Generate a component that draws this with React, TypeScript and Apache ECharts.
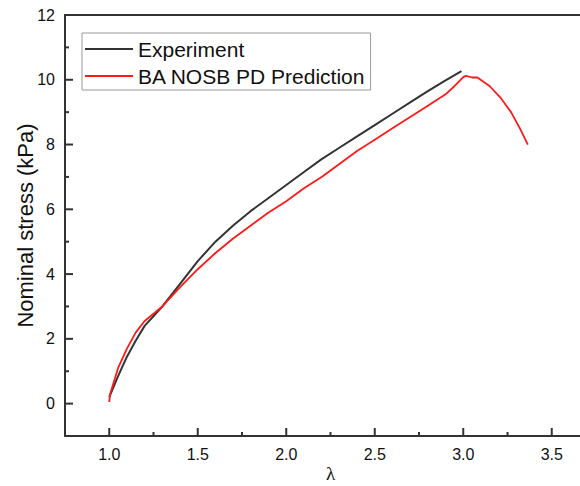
import React, { useEffect, useRef } from "react";
import * as echarts from "echarts";

const expLambda = [1.0, 1.05, 1.1, 1.15, 1.2, 1.3, 1.4, 1.5, 1.6, 1.7, 1.8, 1.9, 2.0, 2.1, 2.2, 2.3, 2.4, 2.5, 2.6, 2.7, 2.8, 2.9, 2.99];
const expStress = [0.2, 0.85, 1.45, 1.95, 2.4, 3.0, 3.7, 4.4, 5.0, 5.5, 5.95, 6.35, 6.75, 7.15, 7.55, 7.9, 8.25, 8.6, 8.95, 9.3, 9.65, 9.98, 10.27];

const predLambda = [1.0, 1.005, 1.05, 1.1, 1.15, 1.2, 1.3, 1.4, 1.5, 1.6, 1.7, 1.8, 1.9, 2.0, 2.1, 2.2, 2.3, 2.4, 2.5, 2.6, 2.7, 2.8, 2.9, 2.95, 3.0, 3.015, 3.05, 3.08, 3.15, 3.21, 3.27, 3.32, 3.365];
const predStress = [0.05, 0.3, 1.1, 1.7, 2.2, 2.55, 3.0, 3.6, 4.15, 4.65, 5.1, 5.5, 5.9, 6.25, 6.65, 7.0, 7.4, 7.8, 8.15, 8.5, 8.85, 9.2, 9.55, 9.8, 10.08, 10.12, 10.07, 10.07, 9.8, 9.45, 9.0, 8.5, 8.0];

const xMajorTicks = [1.0, 1.5, 2.0, 2.5, 3.0, 3.5];
const xMinorTicks = [1.25, 1.75, 2.25, 2.75, 3.25];
const yMajorTicks = [0, 2, 4, 6, 8, 10, 12];
const yMinorTicks = [1, 3, 5, 7, 9, 11];

const X_MIN = 0.75;
const X_MAX = 3.75;
const Y_MIN = -1;
const Y_MAX = 12;

const seriesNames = ["Experiment", "BA NOSB PD Prediction"];

const AXIS_COLOR = "#333333";
const SANS = "'Liberation Sans', Arial, sans-serif";
const MAJOR_LEN = 8;
const MINOR_LEN = 4;

export default function App() {
  const ref = useRef<HTMLDivElement>(null);

  useEffect(() => {
    if (!ref.current) return;
    const chart = echarts.init(ref.current, undefined, { renderer: "svg" });
    const expData = expLambda.map((x, i) => [x, expStress[i]]);
    const predData = predLambda.map((x, i) => [x, predStress[i]]);

    const tickSeries = (data: number[][], size: number[], offset: number[], name: string) => ({
      name,
      type: "scatter",
      xAxisIndex: 0,
      yAxisIndex: 0,
      data,
      symbol: "rect",
      symbolSize: size,
      symbolOffset: offset,
      clip: false,
      silent: true,
      z: 10,
      itemStyle: { color: AXIS_COLOR, opacity: 1 },
      emphasis: { disabled: true },
    });

    chart.setOption({
      animation: false,
      backgroundColor: "#ffffff",
      grid: {
        left: 65,
        top: 15,
        right: 24,
        bottom: 50,
        outerBoundsMode: "none",
        containLabel: false,
      },
      legend: {
        show: true,
        data: seriesNames.map((n) => ({ name: n, icon: "rect" })),
        orient: "vertical",
        left: 82,
        top: 33,
        padding: [5, 5, 3, 3],
        itemGap: 5,
        itemWidth: 48,
        itemHeight: 2,
        borderColor: "#999999",
        borderWidth: 1,
        textStyle: { fontFamily: SANS, fontSize: 21, color: "#111111", lineHeight: 22 },
      },
      xAxis: [
        {
          type: "value",
          min: X_MIN,
          max: X_MAX,
          position: "bottom",
          splitLine: { show: false },
          name: "λ",
          nameLocation: "middle",
          nameGap: 28,
          nameMoveOverlap: false,
          nameTextStyle: { fontFamily: "'Liberation Serif', 'Times New Roman', serif", fontSize: 19, color: "#111111" },
          axisLine: { show: true, onZero: false, lineStyle: { color: AXIS_COLOR, width: 2 } },
          axisTick: { show: false },
          axisLabel: {
            show: true,
            customValues: xMajorTicks,
            margin: 10,
            fontFamily: SANS,
            fontSize: 16,
            color: "#111111",
            formatter: (v: number) => v.toFixed(1),
          },
        },
        {
          type: "value",
          min: X_MIN,
          max: X_MAX,
          position: "top",
          splitLine: { show: false },
          axisLine: { show: true, onZero: false, lineStyle: { color: AXIS_COLOR, width: 2 } },
          axisTick: { show: false },
          axisLabel: { show: false },
        },
      ],
      yAxis: {
        type: "value",
        min: Y_MIN,
        max: Y_MAX,
        position: "left",
        splitLine: { show: false },
        name: "Nominal stress (kPa)",
        nameLocation: "middle",
        nameGap: 29,
        nameMoveOverlap: false,
        nameTextStyle: { fontFamily: SANS, fontSize: 22, color: "#111111" },
        axisLine: { show: true, onZero: false, lineStyle: { color: AXIS_COLOR, width: 2 } },
        axisTick: { show: false },
        axisLabel: {
          show: true,
          customValues: yMajorTicks,
          margin: 10,
          fontFamily: SANS,
          fontSize: 16,
          color: "#111111",
        },
      },
      series: [
        {
          name: seriesNames[0],
          type: "line",
          xAxisIndex: 0,
          yAxisIndex: 0,
          data: expData,
          symbol: "none",
          showSymbol: false,
          lineStyle: { color: "#333333", width: 2 },
          itemStyle: { color: "#333333" },
          z: 3,
        },
        {
          name: seriesNames[1],
          type: "line",
          xAxisIndex: 0,
          yAxisIndex: 0,
          data: predData,
          symbol: "none",
          showSymbol: false,
          lineStyle: { color: "#ff1a1a", width: 1.8 },
          itemStyle: { color: "#ff1a1a" },
          z: 4,
        },
        tickSeries(xMajorTicks.map((v) => [v, Y_MIN]), [2, MAJOR_LEN], [0, -MAJOR_LEN / 2], "xMajor"),
        tickSeries(xMinorTicks.map((v) => [v, Y_MIN]), [2, MINOR_LEN], [0, -MINOR_LEN / 2], "xMinor"),
        tickSeries(yMajorTicks.map((v) => [X_MIN, v]), [MAJOR_LEN, 2], [MAJOR_LEN / 2, 0], "yMajor"),
        tickSeries(yMinorTicks.map((v) => [X_MIN, v]), [MINOR_LEN, 2], [MINOR_LEN / 2, 0], "yMinor"),
      ],
    });
    return () => chart.dispose();
  }, []);

  return (
    <div style={{ position: "fixed", left: 0, top: 0, width: 580, height: 486, overflow: "hidden", background: "#fff" }}>
      <div ref={ref} style={{ width: 620, height: 486 }} />
    </div>
  );
}
